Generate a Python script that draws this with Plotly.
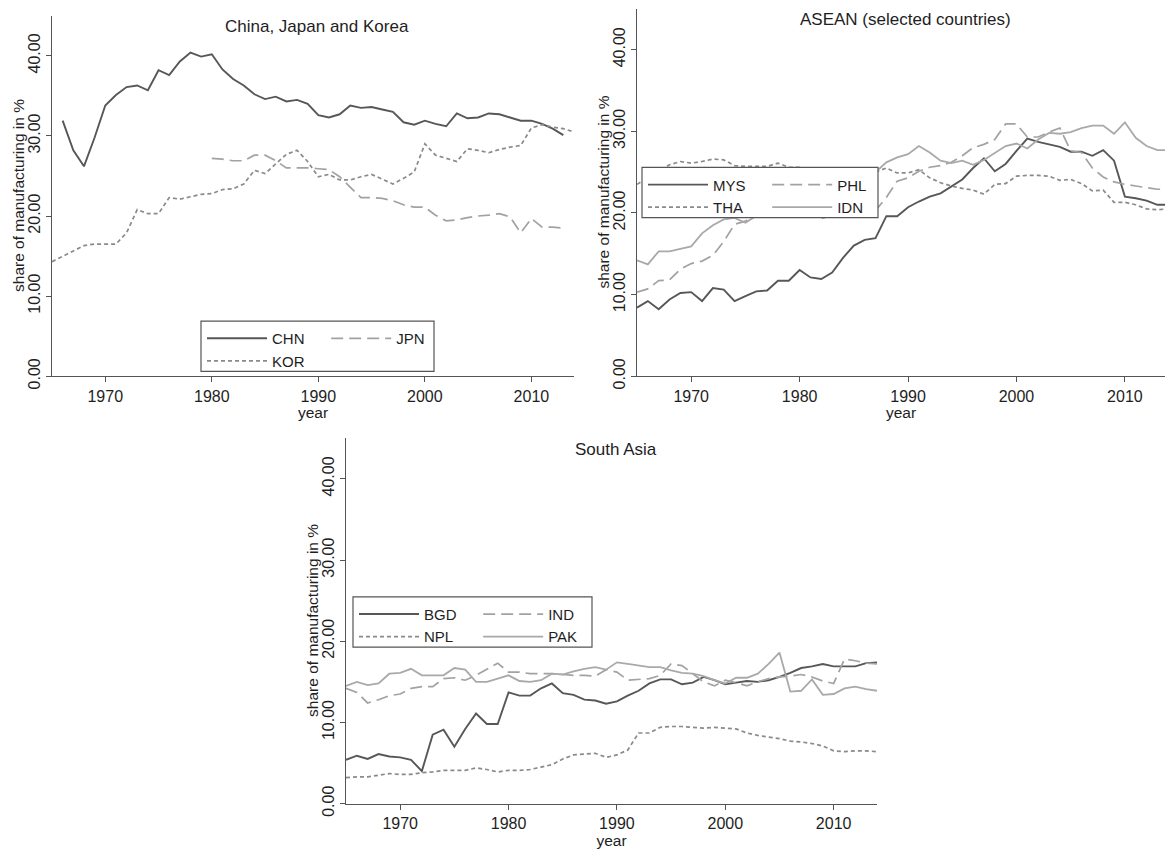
import plotly.graph_objects as go

W, H = 1165, 857
years = list(range(1965, 2015))

# Share of manufacturing in %, one value per year 1965-2014 (None = no data)
chn = [None, 31.9, 28.2, 26.2, 29.8, 33.8, 35.1, 36.1, 36.3, 35.7,
       38.2, 37.6, 39.3, 40.4, 39.9, 40.2, 38.3, 37.1, 36.3, 35.2,
       34.6, 34.9, 34.3, 34.5, 34.0, 32.6, 32.3, 32.7, 33.8, 33.5,
       33.6, 33.3, 33.0, 31.7, 31.4, 31.9, 31.5, 31.2, 32.8, 32.2,
       32.3, 32.8, 32.7, 32.3, 31.9, 31.9, 31.5, 30.9, 30.1, None]
jpn = [None] * 15 + [27.2, 27.1, 26.9, 26.9, 27.6,
       27.6, 26.9, 26.0, 26.0, 26.0, 25.9, 25.8, 24.9, 23.6, 22.3,
       22.3, 22.2, 21.9, 21.4, 21.1, 21.1, 20.1, 19.4, 19.5, 19.8,
       20.0, 20.1, 20.3, 19.9, 17.9, 19.7, 18.6, 18.6, 18.5, None]
kor = [14.3, 15.0, 15.6, 16.3, 16.5, 16.5, 16.5, 17.9, 20.8, 20.3,
       20.3, 22.3, 22.1, 22.4, 22.7, 22.8, 23.3, 23.4, 24.0, 25.7,
       25.3, 26.5, 27.7, 28.2, 26.8, 24.9, 25.2, 24.5, 24.5, 24.9,
       25.2, 24.6, 24.0, 24.7, 25.5, 29.0, 27.6, 27.2, 26.8, 28.4,
       28.2, 27.9, 28.3, 28.6, 28.8, 31.0, 31.4, 31.1, 30.9, 30.5]

mys = [8.4, 9.2, 8.2, 9.4, 10.2, 10.3, 9.2, 10.8, 10.6, 9.2,
       9.8, 10.4, 10.5, 11.7, 11.7, 13.0, 12.1, 11.9, 12.7, 14.5,
       16.0, 16.7, 16.9, 19.6, 19.6, 20.7, 21.4, 22.0, 22.4, 23.3,
       24.1, 25.5, 26.7, 25.1, 26.0, 27.6, 29.1, 28.7, 28.4, 28.1,
       27.5, 27.5, 27.0, 27.7, 26.4, 22.0, 21.8, 21.5, 21.0, 21.0]
phl = [10.3, 10.7, 11.7, 11.8, 13.1, 13.8, 14.1, 14.8, 16.5, 18.6,
       19.0, 19.8, 20.2, 20.5, 20.3, 20.0, 19.8, 19.3, 19.7, 19.9,
       19.7, 19.8, 20.3, 21.9, 23.9, 24.3, 25.1, 25.6, 25.8, 26.2,
       27.0, 28.0, 28.4, 29.0, 30.9, 30.9, 29.3, 29.3, 29.9, 30.4,
       27.6, 27.4, 25.5, 24.4, 23.8, 23.5, 23.3, 23.1, 22.9, 22.9]
tha = [23.5, 24.3, 25.2, 25.9, 26.3, 26.1, 26.3, 26.6, 26.5, 25.8,
       25.7, 25.7, 25.7, 26.1, 25.6, 25.6, 25.2, 24.6, 24.3, 24.0,
       23.8, 24.3, 25.0, 25.5, 24.9, 24.9, 25.3, 24.3, 23.7, 23.3,
       23.0, 22.8, 22.3, 23.5, 23.6, 24.5, 24.6, 24.6, 24.5, 24.0,
       24.1, 23.6, 22.7, 22.8, 21.3, 21.3, 21.0, 20.5, 20.4, 20.5]
idn = [14.2, 13.7, 15.3, 15.3, 15.6, 15.9, 17.5, 18.5, 19.2, 19.4,
       18.8, 19.6, 20.5, 21.5, 22.3, 23.0, 22.8, 23.0, 23.2, 23.6,
       24.0, 24.4, 25.0, 26.2, 26.8, 27.2, 28.2, 27.4, 26.4, 26.1,
       26.4, 25.9, 26.5, 27.3, 28.2, 28.5, 27.9, 29.0, 29.8, 29.7,
       29.9, 30.4, 30.7, 30.7, 29.7, 31.1, 29.2, 28.2, 27.7, 27.7]

bgd = [5.4, 5.9, 5.5, 6.1, 5.8, 5.7, 5.4, 4.0, 8.5, 9.1,
       7.0, 9.2, 11.1, 9.8, 9.8, 13.7, 13.3, 13.3, 14.2, 14.8,
       13.6, 13.4, 12.8, 12.7, 12.3, 12.6, 13.3, 13.9, 14.8, 15.3,
       15.3, 14.7, 14.9, 15.6, 15.2, 14.7, 14.9, 15.1, 15.0, 15.2,
       15.6, 16.1, 16.7, 16.9, 17.2, 16.9, 16.9, 16.9, 17.3, 17.4]
ind = [14.2, 13.7, 12.4, 12.8, 13.3, 13.5, 14.2, 14.4, 14.4, 15.4,
       15.5, 15.2, 15.8, 16.5, 17.3, 16.2, 16.2, 16.0, 16.0, 16.0,
       15.9, 15.8, 15.8, 15.7, 16.5, 16.2, 15.2, 15.3, 15.4, 15.8,
       17.2, 17.0, 16.0, 15.0, 14.5, 15.2, 14.9, 14.5, 15.0, 15.4,
       15.6, 15.7, 15.9, 15.6, 15.1, 14.8, 17.8, 17.6, 17.3, 17.2]
npl = [3.2, 3.3, 3.3, 3.5, 3.7, 3.6, 3.6, 3.8, 3.9, 4.1,
       4.1, 4.1, 4.4, 4.2, 3.9, 4.1, 4.1, 4.2, 4.5, 4.8,
       5.5, 6.0, 6.1, 6.2, 5.7, 6.0, 6.6, 8.7, 8.7, 9.4,
       9.5, 9.5, 9.4, 9.3, 9.4, 9.3, 9.2, 8.7, 8.4, 8.2,
       8.0, 7.7, 7.6, 7.4, 7.1, 6.5, 6.4, 6.5, 6.5, 6.4]
pak = [14.5, 15.0, 14.6, 14.8, 16.0, 16.1, 16.6, 15.8, 15.8, 15.8,
       16.7, 16.5, 15.0, 15.0, 15.4, 15.8, 15.1, 15.0, 15.2, 16.0,
       15.9, 16.3, 16.6, 16.8, 16.5, 17.4, 17.2, 17.0, 16.8, 16.8,
       16.4, 16.1, 16.0, 15.7, 15.2, 14.8, 15.5, 15.5, 16.0, 17.2,
       18.6, 13.8, 13.9, 15.3, 13.4, 13.5, 14.2, 14.4, 14.1, 13.9]

panel_titles = ["China, Japan and Korea", "ASEAN (selected countries)", "South Asia"]
x_ticks = [1970, 1980, 1990, 2000, 2010]
y_ticks = [0, 10, 20, 30, 40]
y_title = "share of manufacturing in %"
x_title = "year"

FONT = "Liberation Sans, Arial, sans-serif"
TXT = "#1e1e1e"
AXC = "#555555"

# line styles: dark solid, light long dash, mid short dash, light solid
STY = {
    "solid_dark": dict(color="#575757", width=1.9, dash="solid"),
    "dash": dict(color="#a2a2a2", width=1.7, dash="12px,6px"),
    "dot": dict(color="#8a8a8a", width=1.7, dash="4px,3px"),
    "solid_light": dict(color="#a9a9a9", width=1.8, dash="solid"),
}
PAD = "\u00a0" * 4  # widens the first legend column

fig = go.Figure()

def add(y, name, style, ax, leg, group):
    fig.add_trace(go.Scatter(
        x=years, y=y, name=name, mode="lines", line=STY[style],
        xaxis="x" + ax, yaxis="y" + ax, legend=leg, legendgroup=group,
        connectgaps=False, hoverinfo="skip"))

# China, Japan and Korea
add(chn, "CHN" + PAD, "solid_dark", "", "legend", "a1")
add(jpn, "JPN", "dash", "", "legend", "b1")
add(kor, "KOR" + PAD, "dot", "", "legend", "a1")
# ASEAN
add(mys, "MYS" + PAD, "solid_dark", "2", "legend2", "a2")
add(phl, "PHL", "dash", "2", "legend2", "b2")
add(tha, "THA" + PAD, "dot", "2", "legend2", "a2")
add(idn, "IDN", "solid_light", "2", "legend2", "b2")
# South Asia
add(bgd, "BGD" + PAD, "solid_dark", "3", "legend3", "a3")
add(ind, "IND", "dash", "3", "legend3", "b3")
add(npl, "NPL" + PAD, "dot", "3", "legend3", "a3")
add(pak, "PAK", "solid_light", "3", "legend3", "b3")

# plot areas in pixels: (left, right, top, bottom, x range end)
panels = [
    (52, 574, 16, 382, 2014),
    (637, 1165, 9, 382, 2013.7),
    (346, 877, 445, 816, 2014),
]
# legend boxes in pixels: (left, top, right, bottom)
legend_boxes = [
    (201, 326, 434, 377),
    (642, 170, 878, 221),
    (353, 606, 592, 657),
]

def xaxis(l, r, xend, anchor):
    return dict(domain=[l / W, r / W], range=[1965, xend], anchor=anchor,
                tickvals=x_ticks, showline=True, linecolor=AXC, linewidth=1.2,
                ticks="outside", ticklen=5, tickcolor=AXC, tickwidth=1.2,
                showgrid=False, zeroline=False,
                tickfont=dict(family=FONT, size=16, color=TXT),
                title=dict(text=x_title, standoff=0,
                           font=dict(family=FONT, size=15.5, color=TXT)))

def yaxis(t, b, anchor):
    return dict(domain=[1 - b / H, 1 - t / H], range=[0, 45], anchor=anchor,
                tickvals=y_ticks, tickformat=".2f", tickangle=-90,
                showline=True, linecolor=AXC, linewidth=1.2,
                ticks="outside", ticklen=5, tickcolor=AXC, tickwidth=1.2,
                showgrid=False, zeroline=False,
                tickfont=dict(family=FONT, size=16, color=TXT))

layout = {}
names = ["", "2", "3"]
for (l, r, t, b, xend), n in zip(panels, names):
    layout["xaxis" + n] = xaxis(l, r, xend, "y" + n)
    layout["yaxis" + n] = yaxis(t, b, "x" + n)

def legend(left, top):
    return dict(x=(left + 1) / W, y=1 - (top + 1) / H, xanchor="left", yanchor="top",
                orientation="h", traceorder="grouped", tracegroupgap=0,
                bgcolor="rgba(0,0,0,0)", borderwidth=0,
                itemwidth=60, font=dict(family=FONT, size=15, color=TXT))

for (l, t, r, b), n in zip(legend_boxes, names):
    layout["legend" + n] = legend(l, t)

shapes = [dict(type="rect", xref="paper", yref="paper",
               x0=l / W, x1=r / W, y0=1 - b / H, y1=1 - t / H,
               fillcolor="white", line=dict(color=AXC, width=1.2), layer="above")
          for (l, t, r, b) in legend_boxes]

annotations = []
for (l, r, t, b, xend), title in zip(panels, panel_titles):
    cx = (l + min(r, l + (2014 - 1965) * (r - l) / (xend - 1965))) / 2 + 4
    annotations.append(dict(text=title, x=cx / W, y=1 - (t + 11) / H,
                            xref="paper", yref="paper", showarrow=False,
                            xanchor="center", yanchor="middle",
                            font=dict(family=FONT, size=17, color=TXT)))
    # rotated y-axis title
    annotations.append(dict(text=y_title, x=(l - 33) / W, y=1 - (t + b) / 2 / H,
                            xref="paper", yref="paper", showarrow=False,
                            textangle=-90, xanchor="center", yanchor="middle",
                            font=dict(family=FONT, size=15.5, color=TXT)))

fig.update_layout(
    width=W, height=H, margin=dict(l=0, r=0, t=0, b=0),
    paper_bgcolor="white", plot_bgcolor="white",
    font=dict(family=FONT, color=TXT),
    annotations=annotations, shapes=shapes, showlegend=True,
    **layout)

fig.write_html("out.html")
